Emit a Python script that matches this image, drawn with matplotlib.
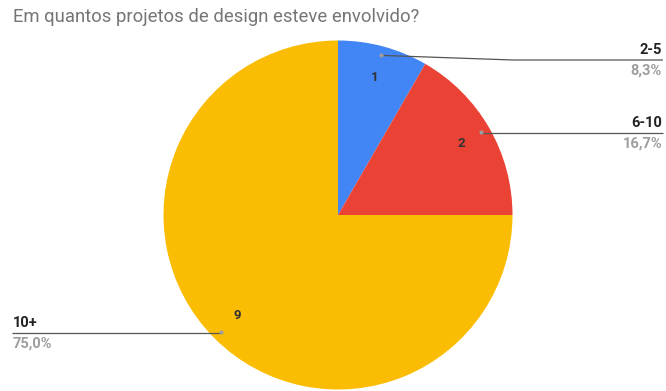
import numpy as np
import matplotlib
matplotlib.use("Agg")
import matplotlib.pyplot as plt

title = "Em quantos projetos de design esteve envolvido?"
categories = ["2-5", "6-10", "10+"]
values = [1, 2, 9]
pct_labels = ["8,3%", "16,7%", "75,0%"]
colors = ["#4285F4", "#EA4335", "#FBBC04"]

W, H = 666, 391
fig = plt.figure(figsize=(W / 100, H / 100), dpi=100)
ax = fig.add_axes([0, 0, 1, 1])

cx, cy, R = 338, H - 215, 174.5
ax.pie(values, colors=colors, startangle=90, counterclock=False,
       center=(cx, cy), radius=R, frame=True,
       wedgeprops=dict(linewidth=0))
ax.set_xlim(0, W)
ax.set_ylim(0, H)
ax.set_aspect("equal")
ax.axis("off")

fig.text(13 / W, 1 - 17 / H, title, fontsize=13.3, color="#757575",
         family="Roboto", va="center", ha="left")

total = sum(values)
cum = 0
# label line y positions (pixels from top) and side
line_y = [60, 133, 333]
sides = ["right", "right", "left"]
for i, v in enumerate(values):
    mid = (cum + v / 2) / total * 2 * np.pi  # clockwise from top
    cum += v
    sx, sy = np.sin(mid), np.cos(mid)
    # inside value
    ax.text(cx + 0.815 * R * sx, cy + 0.815 * R * sy, str(v), ha="center",
            va="center", fontsize=9.5, fontweight="bold", color="#333333",
            family="Roboto")
    # leader dot
    dx, dy = cx + 0.947 * R * sx, cy + 0.947 * R * sy
    ly = H - line_y[i]
    if sides[i] == "right":
        xend = 663
        if abs(dy - ly) > 1:
            xs = [dx, 513, xend]
            ys = [dy, ly, ly]
        else:
            xs = [dx, xend]
            ys = [ly, ly]
        tx, ha = 662, "right"
    else:
        xend = 12
        xs = [dx, xend]
        ys = [ly, ly]
        tx, ha = 13, "left"
    ax.plot(xs, ys, color="#555555", lw=0.9, solid_capstyle="butt", zorder=3)
    ax.plot([dx], [dy], "o", ms=3, color="#9E9E9E", mec="none", zorder=4)
    ax.text(tx, ly + 10, categories[i], ha=ha, va="center", fontsize=10.5,
            fontweight="bold", color="#222222", family="Roboto")
    ax.text(tx, ly - 11, pct_labels[i], ha=ha, va="center", fontsize=10.5,
            fontweight="bold", color="#9E9E9E", family="Roboto")

fig.savefig("out.png", dpi=100)
